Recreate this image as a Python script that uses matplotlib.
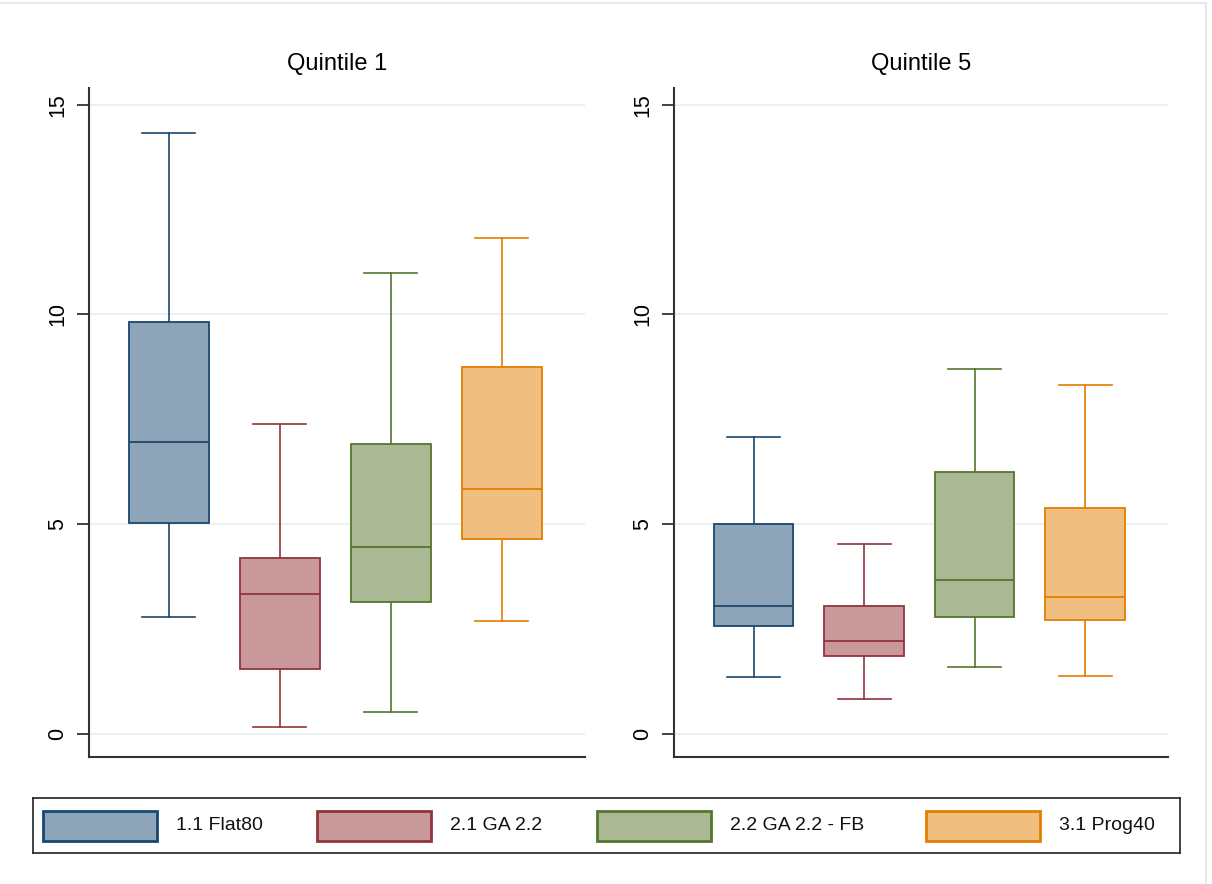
import matplotlib
matplotlib.use("Agg")
import matplotlib.pyplot as plt
from matplotlib.patches import Rectangle
from matplotlib.lines import Line2D

plt.rcParams['font.family'] = ['Liberation Sans', 'DejaVu Sans']

# ── Data: box summaries per scenario (median, quartiles, whisker ends) ──────
scenarios = ['1.1 Flat80', '2.1 GA 2.2', '2.2 GA 2.2 - FB', '3.1 Prog40']
panels = ['Quintile 1', 'Quintile 5']

q1_whislo = [2.79, 0.17, 0.52, 2.69]
q1_q1 = [5.02, 1.55, 3.14, 4.64]
q1_med = [6.95, 3.33, 4.45, 5.83]
q1_q3 = [9.83, 4.19, 6.90, 8.74]
q1_whishi = [14.33, 7.38, 11.00, 11.83]

q5_whislo = [1.36, 0.83, 1.60, 1.38]
q5_q1 = [2.57, 1.86, 2.79, 2.71]
q5_med = [3.05, 2.21, 3.67, 3.26]
q5_q3 = [5.00, 3.05, 6.24, 5.38]
q5_whishi = [7.07, 4.52, 8.71, 8.33]

yticks = [0, 5, 10, 15]

edge_cols = ['#1a476f', '#90353b', '#55752f', '#e37e00']
fill_cols = ['#8ea4b9', '#c8989b', '#aab994', '#f0be7f']

panel_stats = [
    (q1_whislo, q1_q1, q1_med, q1_q3, q1_whishi),
    (q5_whislo, q5_q1, q5_med, q5_q3, q5_whishi),
]

# ── Figure ───────────────────────────────────────────────────────────────────
fig = plt.figure(figsize=(12.12, 8.84), dpi=100)
fig.patch.set_facecolor('white')

ax_pos = [[0.0734, 0.1437, 0.4093, 0.7568],
          [0.5561, 0.1437, 0.4076, 0.7568]]

for title, pos, (wlo, lo, med, hi, whi) in zip(panels, ax_pos, panel_stats):
    ax = fig.add_axes(pos)
    stats = [dict(whislo=wlo[i], q1=lo[i], med=med[i], q3=hi[i],
                  whishi=whi[i], fliers=[]) for i in range(len(scenarios))]
    bp = ax.bxp(stats, positions=range(1, len(scenarios) + 1),
                widths=0.72, capwidths=0.48, patch_artist=True,
                showfliers=False, manage_ticks=False)
    for i in range(len(scenarios)):
        ec, fc = edge_cols[i], fill_cols[i]
        bp['boxes'][i].set(facecolor=fc, edgecolor=ec, linewidth=1.3, zorder=3)
        bp['medians'][i].set(color=ec, linewidth=1.3, zorder=4)
        for ln in bp['whiskers'][2 * i:2 * i + 2] + bp['caps'][2 * i:2 * i + 2]:
            ln.set(color=ec, linewidth=1.2, zorder=2)

    ax.set_xlim(0.28, 4.75)
    ax.set_ylim(-0.55, 15.4)
    ax.set_xticks([])
    ax.set_yticks(yticks)
    ax.set_yticklabels([str(t) for t in yticks], rotation=90, va='center',
                       fontsize=15.5)
    ax.tick_params(axis='y', length=9, width=1.3, pad=6, color='#333333')
    ax.grid(axis='y', color='#e6eff1', linewidth=1.2, zorder=0)
    ax.set_axisbelow(True)
    for side in ('top', 'right'):
        ax.spines[side].set_visible(False)
    for side in ('left', 'bottom'):
        ax.spines[side].set_color('#333333')
        ax.spines[side].set_linewidth(1.5)
    ax.set_title(title, fontsize=17, pad=13)

# ── Legend box ───────────────────────────────────────────────────────────────
leg = fig.add_axes([0.0272, 0.0351, 0.9464, 0.0622])
leg.set_xlim(0, 1147)
leg.set_ylim(0, 55)
leg.set_xticks([])
leg.set_yticks([])
for sp in leg.spines.values():
    sp.set_color('#222222')
    sp.set_linewidth(1.2)

patch_x = [10, 284, 564, 893]
for px, name, ec, fc in zip(patch_x, scenarios, edge_cols, fill_cols):
    leg.add_patch(Rectangle((px, 12), 114, 30, facecolor=fc, edgecolor=ec,
                            linewidth=2.0))
    leg.text(px + 133, 27, name, fontsize=14, va='center', ha='left',
             color='#111111')

# faint outer frame on top and right edges
fig.add_artist(Line2D([0, 0.995], [0.9965, 0.9965], transform=fig.transFigure,
                      color='#e4eaec', linewidth=1.5))
fig.add_artist(Line2D([0.995, 0.995], [0, 0.9965], transform=fig.transFigure,
                      color='#e4eaec', linewidth=1.5))

fig.savefig('out.png', dpi=100, facecolor='white')
